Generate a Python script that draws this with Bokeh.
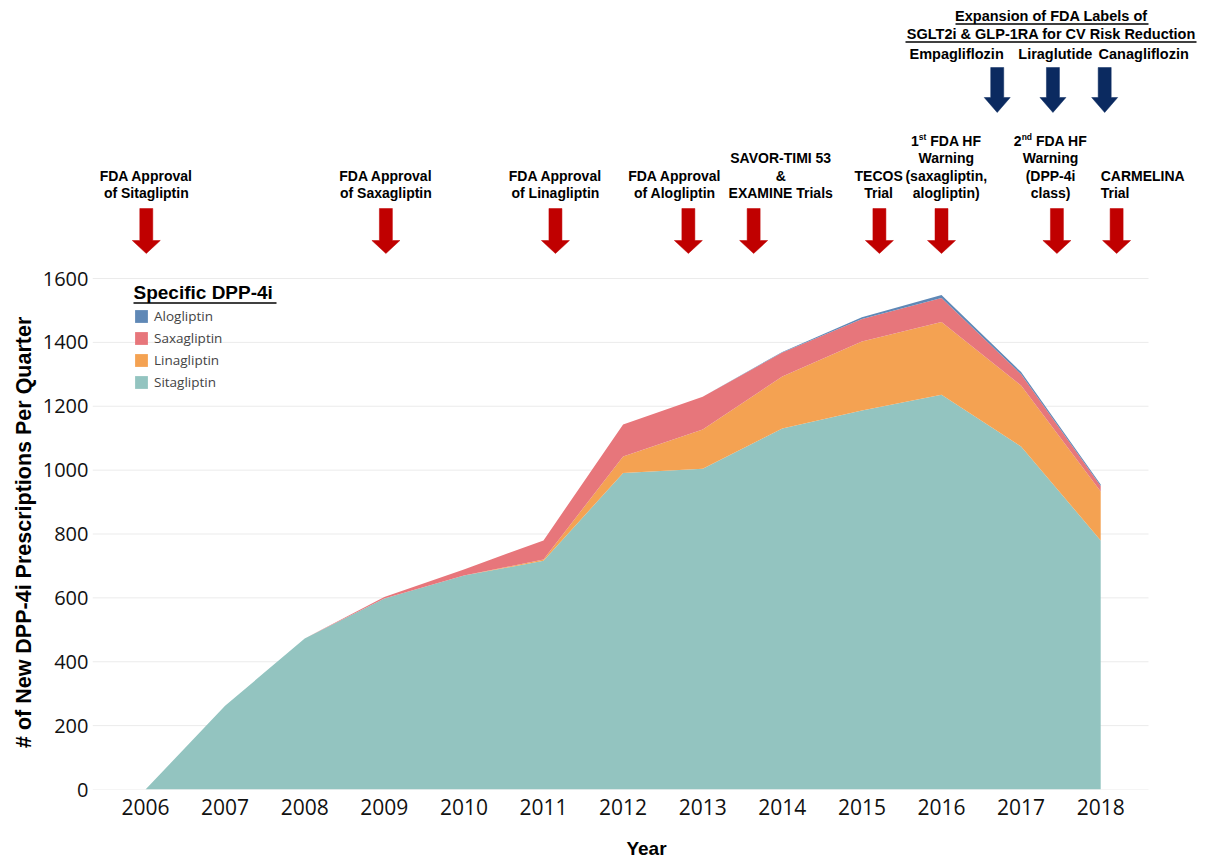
from bokeh.plotting import figure
from bokeh.models import Range1d, FixedTicker, Legend, LegendItem, ColumnDataSource
from bokeh.embed import file_html
from bokeh.resources import INLINE
from bokeh.core.properties import value

# ---------------- data ----------------
years = [2006, 2007, 2008, 2009, 2010, 2011, 2012, 2013, 2014, 2015, 2016, 2017, 2018]
sitagliptin = [0, 262, 473, 598, 670, 716, 991, 1004, 1130, 1187, 1236, 1074, 780]
linagliptin = [0, 0, 0, 0, 0, 4, 52, 123, 163, 216, 228, 191, 153]
saxagliptin = [0, 0, 0, 5, 19, 60, 100, 103, 75, 70, 75, 35, 17]
alogliptin = [0, 0, 0, 0, 0, 0, 0, 0, 2, 6, 9, 7, 5]

series_names = ["Sitagliptin", "Linagliptin", "Saxagliptin", "Alogliptin"]
series_colors = ["#93c4c0", "#f4a252", "#e7767b", "#5f88b6"]
y_ticks = [0, 200, 400, 600, 800, 1000, 1200, 1400, 1600]

red_event_text = [
    "FDA Approval\nof Sitagliptin",
    "FDA Approval\nof Saxagliptin",
    "FDA Approval\nof Linagliptin",
    "FDA Approval\nof Alogliptin",
    "SAVOR-TIMI 53\n&\nEXAMINE Trials",
    "TECOS\nTrial",
    "1^st FDA HF\nWarning\n(saxagliptin,\nalogliptin)",
    "2^nd FDA HF\nWarning\n(DPP-4i\nclass)",
    "CARMELINA\nTrial",
]
red_text_x = [2006.01, 2009.02, 2011.15, 2012.65, 2013.98, 2015.21, 2016.06, 2017.37, 2018.00]
red_text_align = ["center"] * 8 + ["left"]
red_arrow_x = [2006.01, 2009.02, 2011.15, 2012.82, 2013.64, 2015.22, 2016.00, 2017.45, 2018.20]

blue_event_text = ["Empagliflozin", "Liraglutide", "Canagliflozin"]
blue_text_x = [2016.19, 2017.43, 2018.54]
blue_arrow_x = [2016.70, 2017.40, 2018.05]
header_lines = ["Expansion of FDA Labels of", "SGLT2i & GLP-1RA for CV Risk Reduction"]
header_x = 2017.38

y_title = "# of New DPP-4i Prescriptions Per Quarter"

# ---------------- layout constants (page pixels) ----------------
W, H = 1200, 862
PPY = 79.6                 # pixels per year
FRAME_LEFT = 92            # x of frame left
FRAME_RIGHT = 1200         # x of frame right
GRID_RIGHT = 1148          # x where grid lines end
FRAME_TOP = 0
BASE_Y = 789               # y of zero line (frame bottom)
X0 = 2006 - (145 - FRAME_LEFT) / PPY
PPU = 511 / 1600.0         # pixels per prescription unit

RED = "#c00000"
BLUE = "#0b2a60"
TXT_FONT = value("Liberation Sans")


def px_x(px):
    return X0 + (px - FRAME_LEFT) / PPY


def px_y(py):
    return (BASE_Y - py) / PPU


ARIAL_BOLD_W = {" ": 278, "1": 556, "2": 556, "s": 556, "t": 333, "n": 611, "d": 611,
                "F": 611, "D": 722, "A": 722, "H": 722}


def text_w(s, size):
    return sum(ARIAL_BOLD_W.get(c, 600) for c in s) * size / 1000.0


p = figure(width=W, height=H,
           x_range=Range1d(X0, px_x(FRAME_RIGHT)),
           y_range=Range1d(0, px_y(FRAME_TOP)),
           toolbar_location=None, output_backend="svg",
           min_border_left=FRAME_LEFT, min_border_right=W - FRAME_RIGHT,
           min_border_top=FRAME_TOP, min_border_bottom=H - BASE_Y)
p.outline_line_color = None
p.grid.visible = False

# grid lines (limited to the data area)
p.segment(x0=[X0] * len(y_ticks), y0=y_ticks, x1=[px_x(GRID_RIGHT)] * len(y_ticks),
          y1=y_ticks, line_color="#ebebeb", line_width=1)

# stacked areas
src = ColumnDataSource(dict(year=years, Sitagliptin=sitagliptin, Linagliptin=linagliptin,
                            Saxagliptin=saxagliptin, Alogliptin=alogliptin))
areas = p.varea_stack(stackers=series_names, x="year", color=series_colors, source=src)

# axes
p.xaxis.ticker = FixedTicker(ticks=years)
p.yaxis.ticker = FixedTicker(ticks=y_ticks)
for ax in (p.xaxis[0], p.yaxis[0]):
    ax.axis_line_color = None
    ax.major_tick_line_color = None
    ax.minor_tick_line_color = None
    ax.major_tick_out = 0
    ax.major_tick_in = 0
    ax.minor_tick_out = 0
    ax.minor_tick_in = 0
    ax.major_label_text_font = "Open Sans"
    ax.major_label_text_color = "#111111"
    ax.axis_label_text_font = "Liberation Sans"
    ax.axis_label_text_font_style = "bold"
    ax.axis_label_text_color = "#000000"
p.xaxis.major_label_text_font_size = "21px"
p.yaxis.major_label_text_font_size = "20px"
p.xaxis.axis_label_text_font_size = "19px"
title_fs = 21.5
p.yaxis.axis_label_text_font_size = f"{title_fs}px"
p.xaxis.major_label_standoff = 9
p.xaxis.axis_label = "Year"
p.xaxis.axis_label_standoff = 20
p.yaxis.major_label_standoff = 4
p.yaxis.axis_label_standoff = 4

# the y title is centred on the 0-1600 data band (the frame also holds the annotations
# above it), so it is padded with no-break spaces on its upper end
band_center = (BASE_Y + (BASE_Y - 1600 * PPU)) / 2.0 - 2
frame_center = (BASE_Y + FRAME_TOP) / 2.0
pad_px = 2 * (band_center - frame_center)
n_pad = int(round(pad_px / (0.278 * title_fs)))
p.yaxis.axis_label = y_title + "\u00a0" * n_pad

# legend
items = [LegendItem(label=name, renderers=[r]) for name, r in zip(series_names, areas)]
items = items[::-1]
legend = Legend(items=items, location=(133 - FRAME_LEFT, BASE_Y - 391),
                padding=0, margin=0, border_line_color=None, background_fill_alpha=0,
                glyph_width=16, glyph_height=16, label_standoff=5, spacing=4,
                label_height=16, label_text_font="Open Sans", label_text_font_size="13.5px",
                label_text_color="#444444")
p.add_layout(legend, "center")

# legend title with underline
p.text(x=[px_x(133)], y=[px_y(292)], text=["Specific DPP-4i"], text_align="left",
       text_baseline="middle", text_font=TXT_FONT, text_font_style="bold",
       text_font_size="19px", text_color="#000000")
p.segment(x0=[px_x(133)], y0=[px_y(302.5)], x1=[px_x(276)], y1=[px_y(302.5)],
          line_color="#000000", line_width=1.5)


# ---------------- event annotations above the chart ----------------
def arrow_patch(xc, y_top, y_neck, y_tip, shaft_half, head_half):
    ds = shaft_half / PPY
    dh = head_half / PPY
    xs = [xc - ds, xc + ds, xc + ds, xc + dh, xc, xc - dh, xc - ds]
    ys = [px_y(v) for v in (y_top, y_top, y_neck, y_neck, y_tip, y_neck, y_neck)]
    return xs, ys


rxs, rys = [], []
for xc in red_arrow_x:
    a, b = arrow_patch(xc, 208, 240, 253, 6.5, 14)
    rxs.append(a); rys.append(b)
p.patches(rxs, rys, fill_color=RED, line_color=RED, line_width=0.5)

bxs, bys = [], []
for xc in blue_arrow_x:
    a, b = arrow_patch(xc, 67, 97, 112, 6.5, 13)
    bxs.append(a); bys.append(b)
p.patches(bxs, bys, fill_color=BLUE, line_color=BLUE, line_width=0.5)

FS = 14
FS_TOP = 14.5
SUP = 8.5
LINE = 17.5
BOTTOM_LINE = 192.5
tx, ty, tt, ta = [], [], [], []
sx, sy, st = [], [], []
for label, xc, al in zip(red_event_text, red_text_x, red_text_align):
    lines = label.split("\n")
    n = len(lines)
    for i, ln in enumerate(lines):
        yy = BOTTOM_LINE - (n - 1 - i) * LINE
        if "^" in ln:
            base = ln[0]
            rest = ln[2:]
            sup = rest.split(" ")[0]
            tail = rest[len(sup):]
            total = text_w(base, FS) + text_w(sup, SUP) + text_w(tail, FS)
            start_px = (xc - X0) * PPY + FRAME_LEFT - total / 2.0
            tx.append(px_x(start_px)); ty.append(px_y(yy)); tt.append(base); ta.append("left")
            p2 = start_px + text_w(base, FS)
            sx.append(px_x(p2)); sy.append(px_y(yy - 4)); st.append(sup)
            p3 = p2 + text_w(sup, SUP) + text_w(" ", FS)
            tx.append(px_x(p3)); ty.append(px_y(yy)); tt.append(tail.strip()); ta.append("left")
        else:
            tx.append(xc); ty.append(px_y(yy)); tt.append(ln); ta.append(al)

src_t = ColumnDataSource(dict(x=tx, y=ty, text=tt, align=ta))
p.text(x="x", y="y", text="text", text_align="align", source=src_t,
       text_baseline="middle", text_font=TXT_FONT, text_font_style="bold",
       text_font_size=f"{FS}px", text_color="#000000")
p.text(x=sx, y=sy, text=st, text_align="left", text_baseline="middle",
       text_font=TXT_FONT, text_font_style="bold", text_font_size=f"{SUP}px",
       text_color="#000000")

bx, byy, bt = [], [], []
for xc, lab in zip(blue_text_x, blue_event_text):
    bx.append(xc); byy.append(px_y(53)); bt.append(lab)
for i, lab in enumerate(header_lines):
    bx.append(header_x); byy.append(px_y(15 + 18 * i)); bt.append(lab)
p.text(x=bx, y=byy, text=bt, text_align="center", text_baseline="middle",
       text_font=TXT_FONT, text_font_style="bold", text_font_size=f"{FS_TOP}px",
       text_color="#000000")

# underlines of the header
ul_y = [px_y(23.5), px_y(41.5)]
p.segment(x0=[px_x(955), px_x(905)], y0=ul_y, x1=[px_x(1148), px_x(1196)], y1=ul_y,
          line_color="#000000", line_width=1.3)

open("out.html", "w").write(file_html(p, INLINE))
